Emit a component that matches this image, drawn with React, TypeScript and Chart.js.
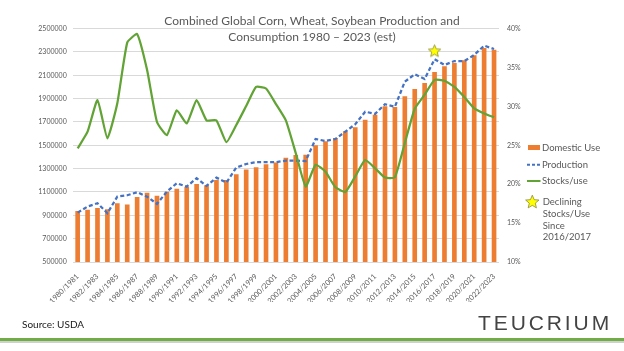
import React, { useEffect, useRef } from "react";
import { Chart, registerables } from "chart.js";

Chart.register(...registerables);

const categories = [
  "1980/1981", "1981/1982", "1982/1983", "1983/1984", "1984/1985", "1985/1986", "1986/1987", "1987/1988",
  "1988/1989", "1989/1990", "1990/1991", "1991/1992", "1992/1993", "1993/1994", "1994/1995", "1995/1996",
  "1996/1997", "1997/1998", "1998/1999", "1999/2000", "2000/2001", "2001/2002", "2002/2003", "2003/2004",
  "2004/2005", "2005/2006", "2006/2007", "2007/2008", "2008/2009", "2009/2010", "2010/2011", "2011/2012",
  "2012/2013", "2013/2014", "2014/2015", "2015/2016", "2016/2017", "2017/2018", "2018/2019", "2019/2020",
  "2020/2021", "2021/2022", "2022/2023",
];

const domesticUse = [
  935000, 945000, 960000, 950000, 1000000, 990000, 1055000, 1090000, 1065000, 1100000, 1125000,
  1140000, 1165000, 1155000, 1200000, 1200000, 1250000, 1290000, 1310000, 1335000, 1350000, 1390000,
  1415000, 1417000, 1497000, 1531000, 1560000, 1617000, 1651000, 1717000, 1760000, 1831000, 1826000,
  1917000, 1980000, 2031000, 2126000, 2174000, 2203000, 2225000, 2268000, 2331000, 2317000,
];

const production = [
  923000, 975000, 1004000, 918000, 1060000, 1072000, 1098000, 1060000, 998000, 1103000, 1175000,
  1146000, 1218000, 1152000, 1223000, 1180000, 1309000, 1340000, 1355000, 1355000, 1355000, 1369000,
  1369000, 1365000, 1554000, 1537000, 1554000, 1617000, 1680000, 1788000, 1769000, 1852000, 1831000,
  2045000, 2109000, 2068000, 2237000, 2188000, 2222000, 2222000, 2274000, 2354000, 2325000,
];

const stocksToUse = [
  24.6, 26.75, 30.8, 25.9, 30.4, 38.2, 39.3, 34.7, 28.0, 26.3, 29.5, 27.8, 30.8, 28.2, 28.2, 25.4,
  27.6, 30.05, 32.5, 32.3, 30.3, 28.2, 24.0, 19.7, 22.5, 21.6, 19.6, 19.0, 21.0, 23.1, 22.05, 20.85,
  20.9, 25.3, 29.7, 31.5, 33.4, 33.3, 32.5, 31.2, 29.75, 29.1, 28.6,
];

const starCategory = "2016/2017";
const starValue = 2310000;

const leftMin = 500000;
const leftMax = 2500000;
const leftStep = 200000;
const rightMin = 10;
const rightMax = 40;
const rightStep = 5;

const legendItems = ["Domestic Use", "Production", "Stocks/use"];
const starNoteLines = ["Declining", "Stocks/Use", "Since", "2016/2017"];

const FONT = "Lato, 'Liberation Sans', sans-serif";
const GREY = "#595959";
const ORANGE = "#ED7D31";
const BLUE = "#4472C4";
const GREEN = "#62A335";

function makeStar(size: number) {
  const c = document.createElement("canvas");
  c.width = size;
  c.height = size;
  const ctx = c.getContext("2d")!;
  const cx = size / 2, cy = size / 2 + 0.5;
  const ro = size / 2 - 1, ri = ro * 0.45;
  ctx.beginPath();
  for (let i = 0; i < 10; i++) {
    const r = i % 2 === 0 ? ro : ri;
    const a = -Math.PI / 2 + (i * Math.PI) / 5;
    const x = cx + r * Math.cos(a), y = cy + r * Math.sin(a);
    if (i === 0) ctx.moveTo(x, y); else ctx.lineTo(x, y);
  }
  ctx.closePath();
  ctx.fillStyle = "#FFFF00";
  ctx.fill();
  ctx.strokeStyle = "#8A8A3A";
  ctx.lineWidth = 0.8;
  ctx.stroke();
  return c;
}

function starPoints(cx: number, cy: number, ro: number) {
  const ri = ro * 0.45;
  const pts: string[] = [];
  for (let i = 0; i < 10; i++) {
    const r = i % 2 === 0 ? ro : ri;
    const a = -Math.PI / 2 + (i * Math.PI) / 5;
    pts.push(`${(cx + r * Math.cos(a)).toFixed(2)},${(cy + r * Math.sin(a)).toFixed(2)}`);
  }
  return pts.join(" ");
}

export default function App() {
  const ref = useRef<HTMLCanvasElement | null>(null);

  useEffect(() => {
    if (!ref.current) return;
    const starImg = makeStar(15);
    const starData = categories.map((c) => (c === starCategory ? starValue : null));
    const chart = new Chart(ref.current, {
      type: "bar",
      data: {
        labels: categories,
        datasets: [
          {
            type: "line",
            label: "star",
            data: starData,
            yAxisID: "y",
            showLine: false,
            pointStyle: starImg as any,
            pointRadius: 7,
            order: 0,
          } as any,
          {
            type: "line",
            label: legendItems[2],
            data: stocksToUse,
            yAxisID: "y1",
            borderColor: GREEN,
            borderWidth: 2.25,
            pointRadius: 0,
            tension: 0.15,
            order: 1,
          },
          {
            type: "line",
            label: legendItems[1],
            data: production,
            yAxisID: "y",
            borderColor: BLUE,
            borderWidth: 2.25,
            borderDash: [4, 2.5],
            pointRadius: 0,
            tension: 0,
            order: 2,
          },
          {
            type: "bar",
            label: legendItems[0],
            data: domesticUse,
            yAxisID: "y",
            backgroundColor: ORANGE,
            barThickness: 4,
            order: 3,
          },
        ],
      },
      options: {
        responsive: false,
        animation: false,
        devicePixelRatio: 1,
        layout: { padding: { left: 0, right: 95, top: 28.6, bottom: 49 } },
        plugins: { legend: { display: false }, tooltip: { enabled: false }, title: { display: false } },
        scales: {
          x: {
            grid: { display: false },
            border: { display: false },
            ticks: {
              autoSkip: false,
              maxRotation: 45,
              minRotation: 45,
              padding: 2,
              color: GREY,
              font: { family: FONT, size: 7.5 },
              callback: function (this: any, value: any, index: number) {
                return index % 2 === 0 ? categories[index] : "";
              },
            },
            afterFit: (s: any) => { s.height = 40; },
          },
          y: {
            position: "left",
            min: leftMin,
            max: leftMax,
            grid: { color: "#D9D9D9", drawTicks: false, lineWidth: 1 },
            border: { display: false },
            ticks: {
              stepSize: leftStep,
              padding: 6,
              color: GREY,
              font: { family: FONT, size: 7 },
              callback: (v: any) => String(v),
            },
            afterFit: (s: any) => { s.width = 72.7; },
          },
          y1: {
            position: "right",
            min: rightMin,
            max: rightMax,
            grid: { display: false, drawTicks: false },
            border: { display: false },
            ticks: {
              stepSize: rightStep,
              padding: 8,
              color: GREY,
              font: { family: FONT, size: 7 },
              callback: (v: any) => `${v}%`,
            },
            afterFit: (s: any) => { s.width = 30; },
          },
        },
      },
    });
    return () => chart.destroy();
  }, []);

  const txt = (content: string, left: number, cy: number, size: number, color = GREY, extra: any = {}) => (
    <div
      key={content + cy}
      style={{
        position: "absolute", left, top: cy - size * 0.65, fontFamily: FONT, fontSize: size,
        lineHeight: `${size * 1.3}px`, color, whiteSpace: "nowrap", ...extra,
      }}
    >
      {content}
    </div>
  );

  return (
    <div style={{ position: "absolute", left: 0, top: 0, width: 624, height: 351, background: "#fff", overflow: "hidden" }}>
      <canvas ref={ref} width={624} height={351} style={{ position: "absolute", left: 0, top: 0, width: 624, height: 351 }} />
      <div style={{ position: "absolute", left: 112, width: 400, top: 13.2, textAlign: "center", fontFamily: FONT, fontSize: 12, lineHeight: "15.7px", color: GREY }}>
        <div>Combined Global Corn, Wheat, Soybean Production and</div>
        <div>Consumption 1980 – 2023 (est)</div>
      </div>
      <div style={{ position: "absolute", left: 527.5, top: 145.2, width: 12.5, height: 5, background: ORANGE }} />
      <svg style={{ position: "absolute", left: 0, top: 0 }} width={624} height={351}>
        <line x1={527} y1={164.7} x2={540.5} y2={164.7} stroke={BLUE} strokeWidth={2} strokeDasharray="3,2" />
        <line x1={527} y1={181} x2={540.5} y2={181} stroke={GREEN} strokeWidth={2} />
        <polygon points={starPoints(532.3, 202.2, 7)} fill="#FFFF00" stroke="#8A8A3A" strokeWidth={0.8} />
      </svg>
      {txt(legendItems[0], 542, 147.7, 9.5)}
      {txt(legendItems[1], 542, 164.7, 9.5)}
      {txt(legendItems[2], 542, 181, 9.5)}
      {starNoteLines.map((l, i) => txt(l, 542.7, 202.3 + i * 11.7, 9.5))}
      {txt("Source: USDA", 22, 324.3, 10, "#1a1a1a")}
      <div style={{ position: "absolute", left: 478, top: 309.5, fontFamily: "'Liberation Sans', Arial, sans-serif", fontSize: 21, lineHeight: "26px", letterSpacing: 2.9, color: "#444" }}>
        TEUCRIUM
      </div>
      <div style={{ position: "absolute", left: 0, top: 338, width: 624, height: 3.2, background: "#70AD47" }} />
      <div style={{ position: "absolute", left: 0, top: 341.2, width: 624, height: 1.5, background: "#D0D0D0" }} />
    </div>
  );
}
